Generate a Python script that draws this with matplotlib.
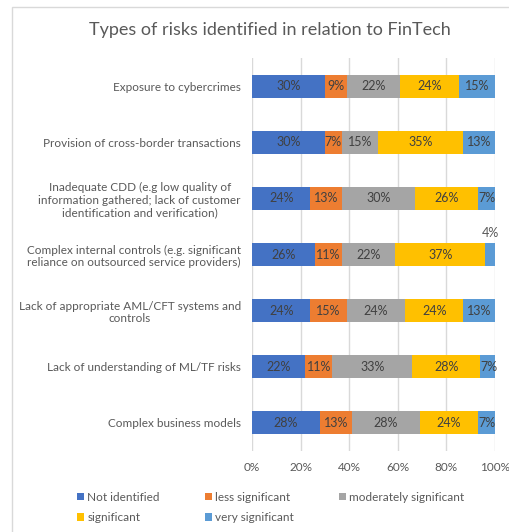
import matplotlib
matplotlib.use("Agg")
import matplotlib.pyplot as plt
from matplotlib.patches import Rectangle
import numpy as np

plt.rcParams['font.family'] = ['Lato', 'DejaVu Sans']

categories = [
    "Exposure to cybercrimes",
    "Provision of cross-border transactions",
    "Inadequate CDD (e.g low quality of\ninformation gathered; lack of customer\nidentification and verification)",
    "Complex internal controls (e.g. significant\nreliance on outsourced service providers)",
    "Lack of appropriate AML/CFT systems and\ncontrols",
    "Lack of understanding of ML/TF risks",
    "Complex business models",
]
series_names = ["Not identified", "less significant", "moderately significant",
                "significant", "very significant"]
not_identified = [30, 30, 24, 26, 24, 22, 28]
less_significant = [9, 7, 13, 11, 15, 11, 13]
moderately_significant = [22, 15, 30, 22, 24, 33, 28]
significant = [24, 35, 26, 37, 24, 28, 24]
very_significant = [15, 13, 7, 4, 13, 7, 7]
tick_labels = ["0%", "20%", "40%", "60%", "80%", "100%"]

series = [not_identified, less_significant, moderately_significant, significant, very_significant]
colors = ["#4472C4", "#ED7D31", "#A5A5A5", "#FFC000", "#5B9BD5"]
text_col = "#595959"

fig = plt.figure(figsize=(5.10, 5.32), dpi=100)
# chart border
fig.patches.append(Rectangle((12/510, -0.1), 1.2, 1 - 7/532 + 0.1, transform=fig.transFigure,
                             fill=False, edgecolor="#D9D9D9", linewidth=1.0))

ax = fig.add_axes([252/510, 1 - 451/532, (495 - 252)/510, (451 - 58)/532])
y = np.arange(len(categories))
left = np.zeros(len(categories))
handles = []
for vals, col, name in zip(series, colors, series_names):
    vals = np.array(vals, dtype=float)
    bars = ax.barh(y, vals, left=left, height=0.41, color=col, label=name, zorder=3)
    handles.append(bars)
    for yi, (l, v) in enumerate(zip(left, vals)):
        if v <= 4:
            ax.text(l + v / 2, yi - 0.38, f"{int(v)}%", ha="center", va="center",
                    fontsize=9, color=text_col, zorder=4)
        else:
            ax.text(l + v / 2, yi, f"{int(v)}%", ha="center", va="center",
                    fontsize=9, color="#404040", zorder=4)
    left = left + vals

ax.set_xlim(0, 100)
ax.set_ylim(len(categories) - 0.5, -0.5)
ax.set_xticks(np.arange(0, 101, 20))
ax.set_xticklabels(tick_labels, fontsize=8.5, color=text_col)
ax.set_yticks(y)
ax.set_yticklabels(categories, fontsize=8.5, color=text_col)
for lab in ax.get_yticklabels():
    lab.set_multialignment("center")
ax.tick_params(axis="both", length=0)
ax.tick_params(axis="y", pad=8)
ax.tick_params(axis="x", pad=8)
ax.grid(axis="x", color="#D9D9D9", linewidth=1.0, zorder=0)
for s in ax.spines.values():
    s.set_visible(False)

fig.text(270/510, 1 - 30/532, "Types of risks identified in relation to FinTech",
         ha="center", va="center", fontsize=13, color="#595959")

order = [0, 3, 1, 4, 2]
leg = fig.legend([handles[i] for i in order], [series_names[i] for i in order],
                 ncol=3, loc="upper left", bbox_to_anchor=(66/510, 1 - 481/532),
                 frameon=False, fontsize=8.5, handlelength=0.6, handleheight=0.6,
                 handletextpad=0.3, columnspacing=3.8, labelspacing=0.8,
                 labelcolor=text_col)

fig.savefig("out.png", dpi=100, facecolor="white")
